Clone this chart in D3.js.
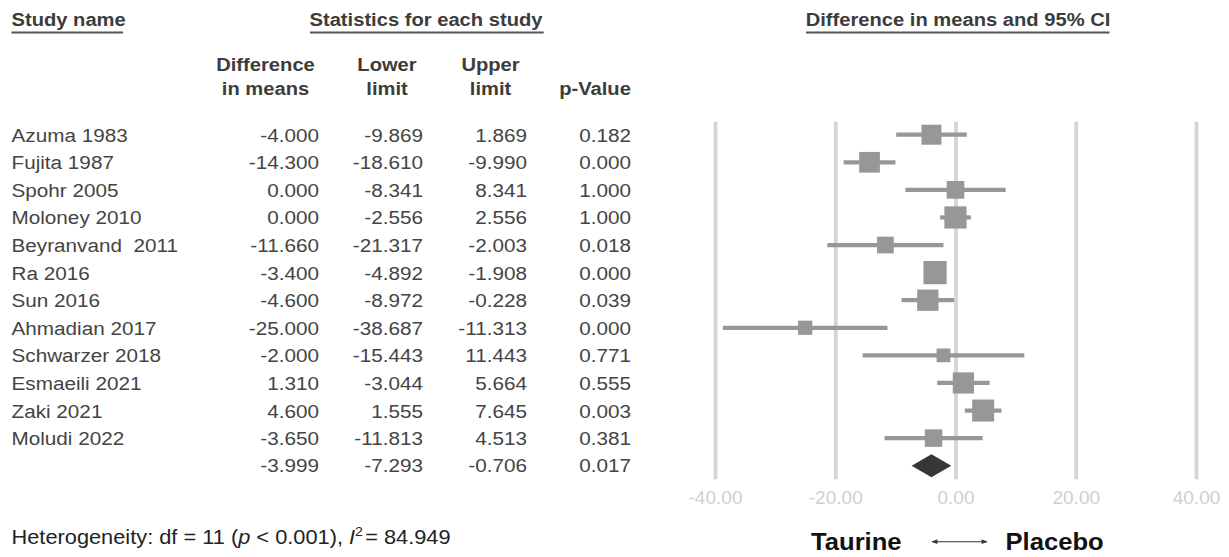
<!DOCTYPE html>
<html>
<head>
<meta charset="utf-8">
<script src="https://cdn.jsdelivr.net/npm/d3@7"></script>
<style>
  html, body { margin: 0; padding: 0; background: #fff; }
  svg { display: block; }
  text { font-family: "Liberation Sans", Arial, Helvetica, sans-serif; white-space: pre; }
</style>
</head>
<body>
<svg id="chart" width="1229" height="557"></svg>
<script>
// ---------- data ----------
const studies = ["Azuma 1983", "Fujita 1987", "Spohr 2005", "Moloney 2010", "Beyranvand  2011",
  "Ra 2016", "Sun 2016", "Ahmadian 2017", "Schwarzer 2018", "Esmaeili 2021", "Zaki 2021", "Moludi 2022"];
const diffs  = [-4.000, -14.300, 0.000, 0.000, -11.660, -3.400, -4.600, -25.000, -2.000, 1.310, 4.600, -3.650];
const lowers = [-9.869, -18.610, -8.341, -2.556, -21.317, -4.892, -8.972, -38.687, -15.443, -3.044, 1.555, -11.813];
const uppers = [1.869, -9.990, 8.341, 2.556, -2.003, -1.908, -0.228, -11.313, 11.443, 5.664, 7.645, 4.513];
const pvals  = [0.182, 0.000, 1.000, 1.000, 0.018, 0.000, 0.039, 0.000, 0.771, 0.555, 0.003, 0.381];
// relative weights (estimated from square sizes)
const weights = [8.82, 9.44, 6.90, 10.87, 6.15, 11.86, 10.01, 4.45, 4.19, 9.90, 10.67, 6.75];
const summary = { diff: -3.999, lower: -7.293, upper: -0.706, p: 0.017 };
const tickValues = [-40, -20, 0, 20, 40];
const heterogeneity = { df: 11, p: "< 0.001", i2: "84.949" };

// ---------- setup ----------
const svg = d3.select("#chart");
const SX = 1.09; // horizontal stretch of the reference text
const fmt3 = v => v.toFixed(3);

function txt(parent, s, x, y, o = {}) {
  return parent.append("text")
    .attr("transform", `translate(${x},${y}) scale(${SX},1)`)
    .attr("xml:space", "preserve")
    .attr("text-anchor", o.anchor || "start")
    .style("font-size", (o.size || 19) + "px")
    .style("font-weight", o.weight || "normal")
    .style("fill", o.fill || "#444")
    .text(s);
}

const x = d3.scaleLinear().domain([-40, 40]).range([715, 1196]);
const rowIdx = d3.range(studies.length + 1);
const y = d3.scalePoint().domain(rowIdx).range([134.7, 465.7]);
const size = d3.scaleSqrt().domain([0, d3.max(weights)]).range([0, 23.2]);

const gridTop = 121.7, gridBottom = 479.3;

// ---------- headers ----------
const hdr = { size: 18.5, weight: "bold", fill: "#3c3c3c" };
txt(svg, "Study name", 11.5, 26, hdr);
txt(svg, "Statistics for each study", 426, 26, { ...hdr, anchor: "middle" });
txt(svg, "Difference in means and 95% CI", 958, 26, { ...hdr, anchor: "middle" });
[[11.5, 123], [310, 543.7], [806, 1109.5]].forEach(([a, b]) => {
  svg.append("line").attr("x1", a).attr("x2", b).attr("y1", 32.5).attr("y2", 32.5)
    .attr("stroke", "#555").attr("stroke-width", 2);
});

const colRight = [319, 423, 527, 631];
const colHead = [["Difference", "in means", 265.5], ["Lower", "limit", 387], ["Upper", "limit", 490.5], ["", "p-Value", 595]];
colHead.forEach(([l1, l2, cx]) => {
  if (l1) txt(svg, l1, cx, 71, { ...hdr, anchor: "middle" });
  txt(svg, l2, cx, 95, { ...hdr, anchor: "middle" });
});

// ---------- table rows ----------
const rows = svg.append("g");
studies.forEach((s, i) => {
  const by = y(i) + 7;
  txt(rows, s, 11.5, by);
  [diffs[i], lowers[i], uppers[i], pvals[i]].forEach((v, j) => {
    txt(rows, fmt3(v), colRight[j], by, { anchor: "end" });
  });
});
{
  const by = y(studies.length) + 6.5;
  [summary.diff, summary.lower, summary.upper, summary.p].forEach((v, j) => {
    txt(rows, fmt3(v), colRight[j], by, { anchor: "end" });
  });
}

// ---------- grid + axis ----------
const axis = d3.axisBottom(x)
  .tickValues(tickValues)
  .tickFormat(d => d.toFixed(2))
  .tickSize(-(gridBottom - gridTop))
  .tickPadding(12.3);
const ax = svg.append("g").attr("transform", `translate(0,${gridBottom})`).call(axis);
ax.select(".domain").remove();
ax.selectAll(".tick line").attr("stroke", "#d4d4d4").attr("stroke-width", 3.7);
ax.selectAll(".tick text")
  .attr("transform", `scale(${SX},1)`)
  .style("font-size", "17.5px")
  .style("font-family", "'Liberation Sans', Arial, sans-serif")
  .attr("fill", "#cfcfcf");

// ---------- study marks ----------
const marks = svg.append("g");
marks.selectAll("line.ci").data(studies).join("line")
  .attr("class", "ci")
  .attr("x1", (d, i) => x(lowers[i]))
  .attr("x2", (d, i) => x(uppers[i]))
  .attr("y1", (d, i) => y(i))
  .attr("y2", (d, i) => y(i))
  .attr("stroke", "#979797").attr("stroke-width", 4.2);
marks.selectAll("rect.pt").data(studies).join("rect")
  .attr("class", "pt")
  .attr("x", (d, i) => x(diffs[i]) - size(weights[i]) / 2)
  .attr("y", (d, i) => y(i) - size(weights[i]) / 2)
  .attr("width", (d, i) => size(weights[i]))
  .attr("height", (d, i) => size(weights[i]))
  .attr("fill", "#979797");

// summary diamond
const sy = y(studies.length);
marks.append("path")
  .attr("d", `M${x(summary.lower)},${sy} L${x(summary.diff)},${sy - 11.5} L${x(summary.upper)},${sy} L${x(summary.diff)},${sy + 11.5} Z`)
  .attr("fill", "#363636");

// ---------- footer ----------
const het = svg.append("text")
  .attr("transform", `translate(11.5,544.3) scale(${SX},1)`)
  .style("font-size", "20px").style("fill", "#222");
het.append("tspan").text(`Heterogeneity: df = ${heterogeneity.df} (`);
het.append("tspan").style("font-style", "italic").text("p");
het.append("tspan").text(` ${heterogeneity.p}), `);
het.append("tspan").style("font-style", "italic").text("I");
het.append("tspan").attr("dy", -8).style("font-size", "13px").text("2");
het.append("tspan").attr("dy", 8).attr("dx", 2).text(`= ${heterogeneity.i2}`);

const defs = svg.append("defs");
defs.append("marker").attr("id", "ah").attr("viewBox", "0 0 10 10")
  .attr("refX", 9).attr("refY", 5).attr("markerWidth", 8).attr("markerHeight", 6)
  .attr("markerUnits", "userSpaceOnUse").attr("orient", "auto-start-reverse")
  .append("path").attr("d", "M0,1 L10,5 L0,9 Z").attr("fill", "#333");
svg.append("line").attr("x1", 932).attr("x2", 987).attr("y1", 541.7).attr("y2", 541.7)
  .attr("stroke", "#333").attr("stroke-width", 1.1)
  .attr("marker-start", "url(#ah)").attr("marker-end", "url(#ah)");

txt(svg, "Taurine", 811, 550, { size: 23.5, weight: "bold", fill: "#111" });
txt(svg, "Placebo", 1005.5, 550, { size: 23.5, weight: "bold", fill: "#111" });
</script>
</body>
</html>
